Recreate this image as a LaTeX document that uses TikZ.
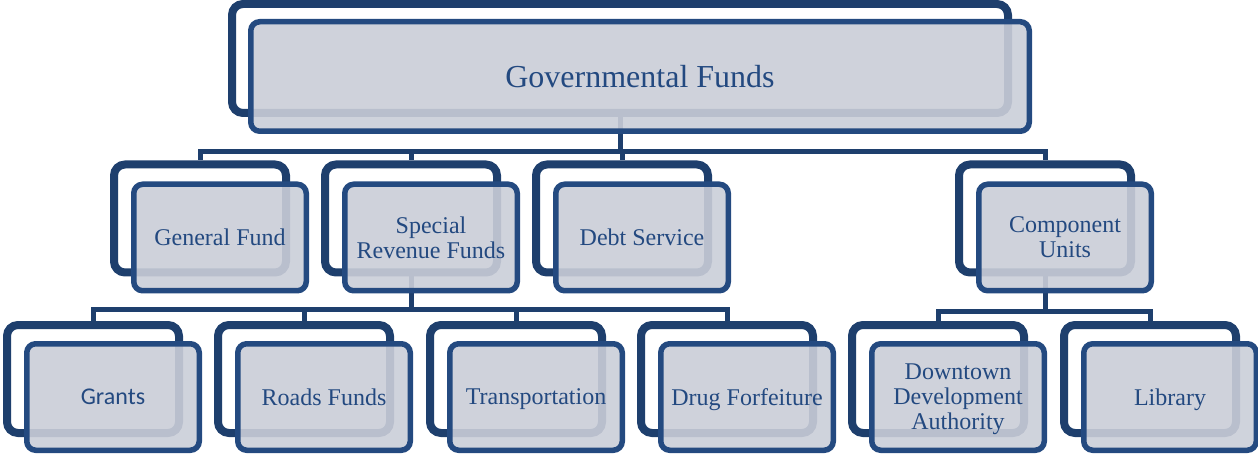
\documentclass[tikz,border=0pt]{standalone}
\usepackage{fontspec}
\setmainfont{Liberation Serif}
\newfontfamily\grantsfont{Carlito}
\usetikzlibrary{positioning,shadows}
\pgfdeclarelayer{bg}
\pgfsetlayers{bg,main}
\definecolor{fundback}{HTML}{1E3F6D}
\definecolor{fundfront}{HTML}{244A80}
\definecolor{fundfill}{RGB}{202,206,216}
\definecolor{fundtext}{HTML}{234980}
\definecolor{fundlink}{HTML}{1E3F6D}
\begin{document}
\begin{tikzpicture}[x=1pt,y=-1pt,
  backbox/.style={draw=fundback,line width=8pt,fill=white,rounded corners=11pt,
    minimum width=172pt,minimum height=108pt,
    drop shadow={shadow xshift=-2pt,shadow yshift=-3pt,opacity=.18}},
  frontbox/.style={draw=fundfront,line width=5.5pt,fill=fundfill,fill opacity=.9,
    text opacity=1,rounded corners=9pt,minimum width=172.5pt,minimum height=106.5pt,
    text=fundtext,text depth=0pt,align=center,font=\fontsize{24}{25}\selectfont},
  link/.style={draw=fundlink,line width=5pt}]
\useasboundingbox (0,0) rectangle (1258,454);

% top
\node[backbox,minimum width=776pt,minimum height=109pt] (govB) at (620,58.5) {};
\node[frontbox,minimum width=778.5pt,minimum height=109.5pt,
  font=\fontsize{32}{34}\selectfont] (gov) at ([shift={(20,18)}]govB) {Governmental Funds};

% second row
\node[backbox] (genB) at (200,218.5) {};
\node[frontbox] (gen) at ([shift={(20,19)}]genB) {General Fund};
\node[backbox] (spcB) at (411,218.5) {};
\node[frontbox] (spc) at ([shift={(20,19)}]spcB) {Special\\Revenue Funds};
\node[backbox] (debB) at (622,218.5) {};
\node[frontbox] (deb) at ([shift={(20,19)}]debB) {Debt Service};
\node[backbox] (comB) at (1045,218.5) {};
\node[frontbox] (com) at ([shift={(20,19)}]comB) {Component\\Units};

% third row
\node[backbox] (graB) at (93,379) {};
\node[frontbox,font=\grantsfont\fontsize{24}{25}\selectfont] (gra) at ([shift={(20,18)}]graB) {Grants};
\node[backbox] (rodB) at (304,379) {};
\node[frontbox] (rod) at ([shift={(20,18)}]rodB) {Roads Funds};
\node[backbox] (traB) at (516,379) {};
\node[frontbox] (tra) at ([shift={(20,18)}]traB) {Transportation};
\node[backbox] (drgB) at (727,379) {};
\node[frontbox] (drg) at ([shift={(20,18)}]drgB) {Drug Forfeiture};
\node[backbox] (ddaB) at (938,379) {};
\node[frontbox] (dda) at ([shift={(20,18)}]ddaB) {Downtown\\Development\\Authority};
\node[backbox] (libB) at (1150,379) {};
\node[frontbox] (lib) at ([shift={(20,18)}]libB) {Library};

% connectors behind the boxes
\begin{pgfonlayer}{bg}
\foreach \kid in {genB,spcB,debB,comB}
  \draw[link] (govB.south) -- ++(0,35) -| (\kid.north);
\foreach \kid in {graB,rodB,traB,drgB}
  \draw[link] (spcB.south) -- ++(0,33) -| (\kid.north);
\foreach \kid in {ddaB,libB}
  \draw[link] (comB.south) -- ++(0,35) -| (\kid.north);
\end{pgfonlayer}
\end{tikzpicture}
\end{document}
